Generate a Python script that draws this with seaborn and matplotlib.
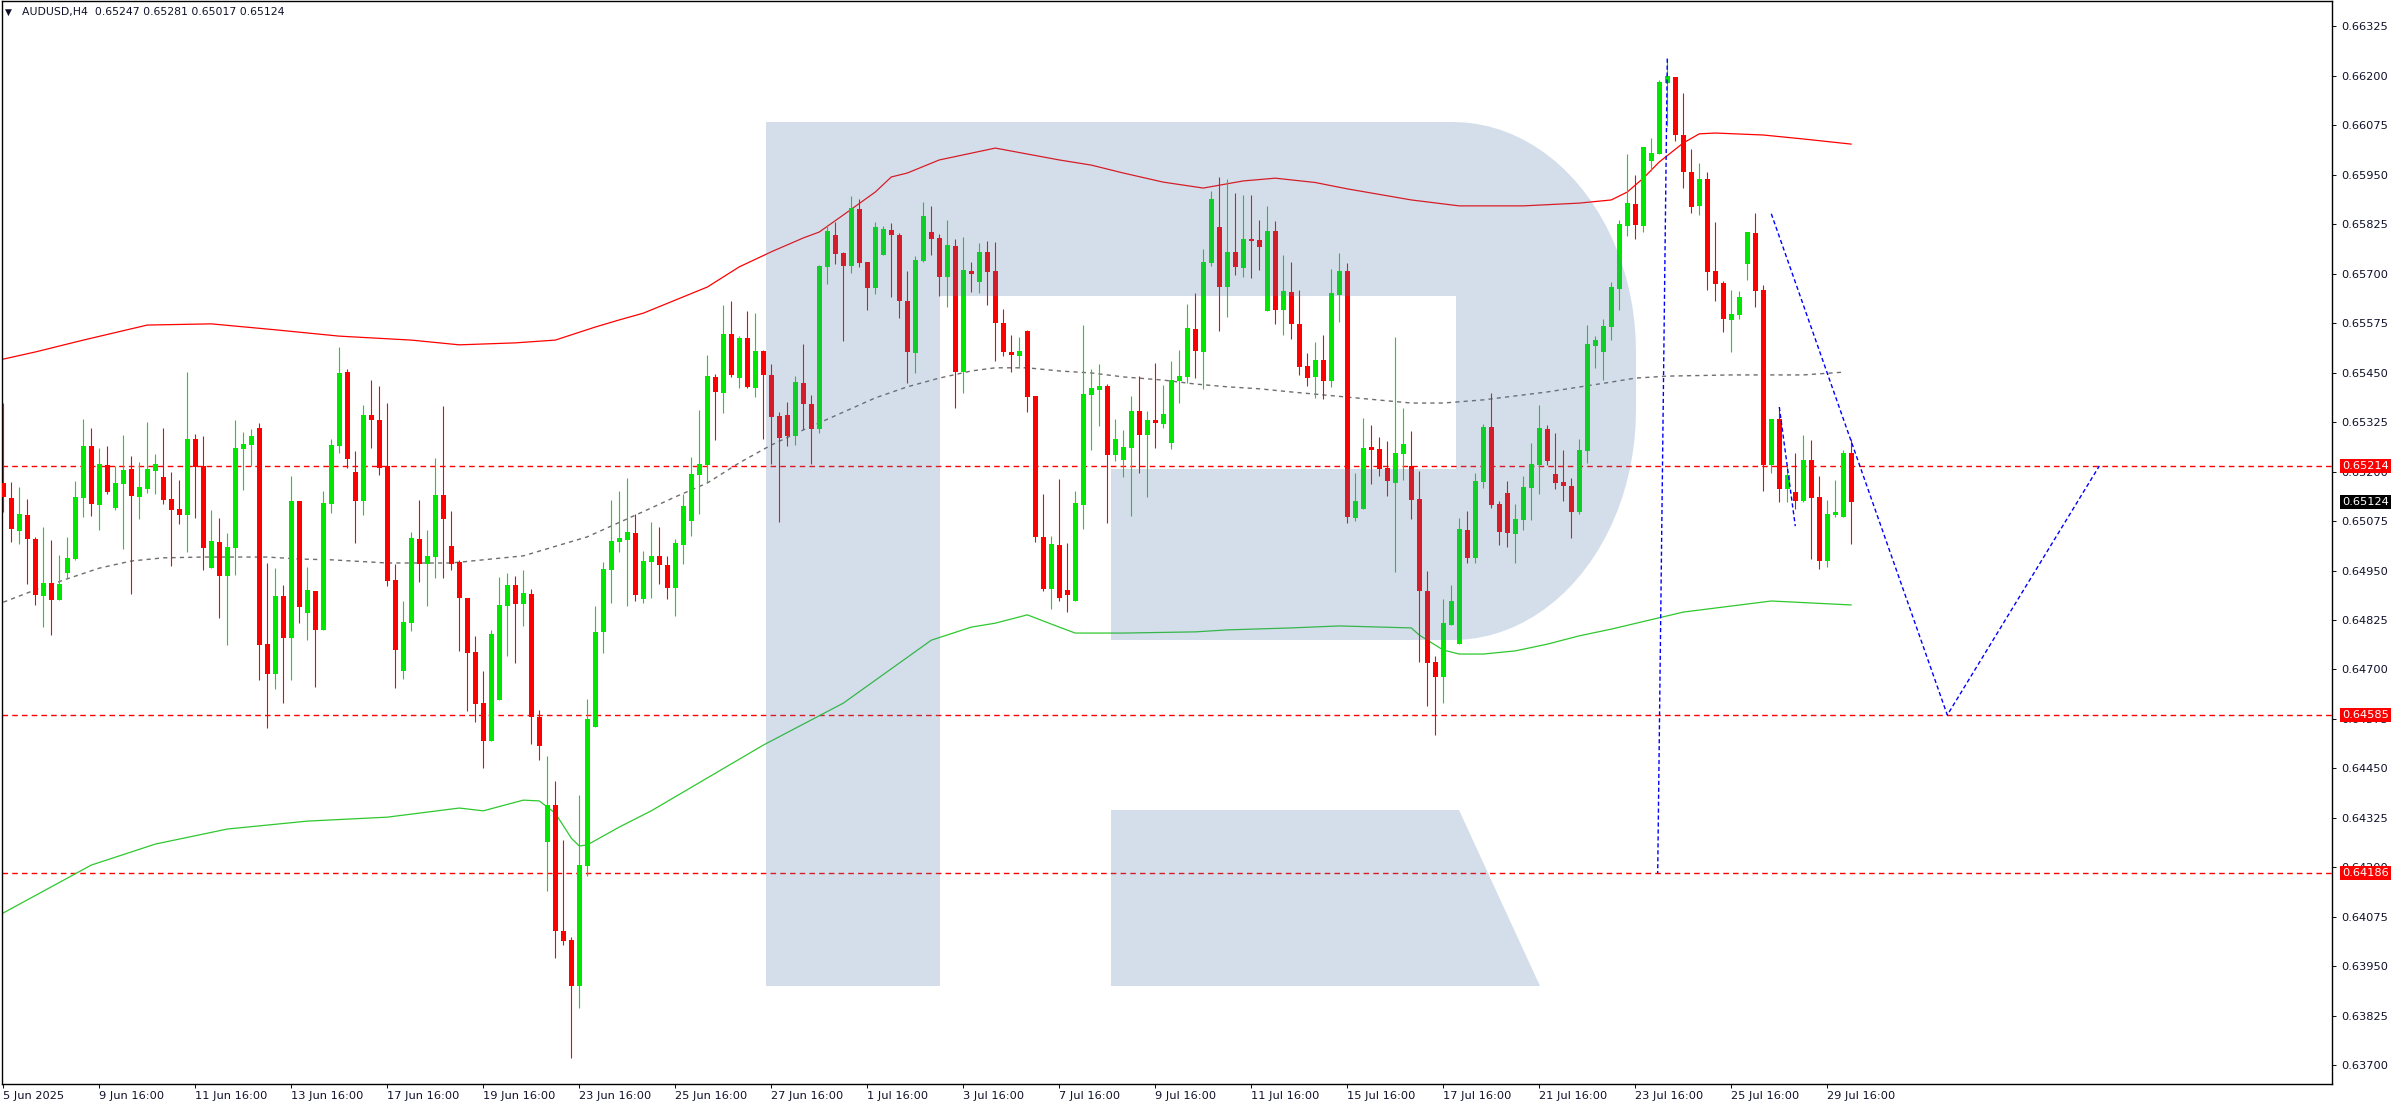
import numpy as np
import pandas as pd
import matplotlib
matplotlib.use("Agg")
import matplotlib.pyplot as plt
from matplotlib.patches import Polygon
from matplotlib.transforms import blended_transform_factory
import seaborn as sns

sns.set_style("white")
plt.rcParams['font.family'] = ['DejaVu Sans']

header = "AUDUSD,H4  0.65247 0.65281 0.65017 0.65124"

# H4 candles (bar 0 = 5 Jun 2025, last bar = 30 Jul 04:00)
opens = [
    0.65171, 0.65133, 0.65050, 0.65090, 0.65029, 0.64885, 0.64918, 0.64875, 0.64944, 0.64979,
    0.65133, 0.65264, 0.65115, 0.65216, 0.65108, 0.65168, 0.65206, 0.65136, 0.65156, 0.65201,
    0.65186, 0.65130, 0.65105, 0.65090, 0.65282, 0.65214, 0.64956, 0.65022, 0.64936, 0.65007,
    0.65257, 0.65267, 0.65310, 0.64764, 0.64688, 0.64885, 0.64779, 0.65125, 0.64843, 0.64898,
    0.64800, 0.65118, 0.65264, 0.65451, 0.65199, 0.65125, 0.65343, 0.65330, 0.65214, 0.64926,
    0.64696, 0.64817, 0.65029, 0.64966, 0.64984, 0.65141, 0.65012, 0.64971, 0.64880, 0.64744,
    0.64615, 0.64519, 0.64623, 0.64860, 0.64913, 0.64865, 0.64891, 0.64580, 0.64264, 0.64358,
    0.64039, 0.64017, 0.63900, 0.64203, 0.64555, 0.64795, 0.64951, 0.65022, 0.65027, 0.65045,
    0.64878, 0.64971, 0.64987, 0.64964, 0.64906, 0.65014, 0.65075, 0.65191, 0.65216, 0.65439,
    0.65398, 0.65547, 0.65436, 0.65537, 0.65411, 0.65504, 0.65444, 0.65340, 0.65343, 0.65290,
    0.65424, 0.65371, 0.65307, 0.65717, 0.65797, 0.65752, 0.65719, 0.65863, 0.65729, 0.65663,
    0.65747, 0.65810, 0.65797, 0.65631, 0.65499, 0.65732, 0.65805, 0.65790, 0.65691, 0.65770,
    0.65451, 0.65707, 0.65679, 0.65754, 0.65707, 0.65575, 0.65502, 0.65492, 0.65555, 0.65391,
    0.65034, 0.64903, 0.65014, 0.64901, 0.64873, 0.65115, 0.65393, 0.65406, 0.65416, 0.65242,
    0.65229, 0.65259, 0.65353, 0.65292, 0.65330, 0.65320, 0.65272, 0.65429, 0.65439, 0.65560,
    0.65502, 0.65727, 0.65818, 0.65666, 0.65754, 0.65714, 0.65787, 0.65785, 0.65605, 0.65807,
    0.65608, 0.65653, 0.65573, 0.65466, 0.65439, 0.65482, 0.65429, 0.65646, 0.65706, 0.65082,
    0.65105, 0.65262, 0.65257, 0.65209, 0.65171, 0.65244, 0.65214, 0.65130, 0.64898, 0.64719,
    0.64681, 0.64812, 0.64764, 0.65052, 0.64981, 0.65173, 0.65312, 0.65118, 0.65146, 0.65042,
    0.65077, 0.65158, 0.65216, 0.65307, 0.65194, 0.65173, 0.65163, 0.65098, 0.65252, 0.65517,
    0.65502, 0.65565, 0.65661, 0.65820, 0.65876, 0.65820, 0.65984, 0.66002, 0.66181, 0.66196,
    0.66050, 0.65957, 0.65871, 0.65939, 0.65707, 0.65676, 0.65583, 0.65595, 0.65724, 0.65802,
    0.65658, 0.65216, 0.65333, 0.65156, 0.65148, 0.65125, 0.65229, 0.65136, 0.64974, 0.65090,
    0.65085, 0.65247]
highs = [
    0.65373, 0.65173, 0.65161, 0.65131, 0.65034, 0.65060, 0.65027, 0.64989, 0.65034, 0.65176,
    0.65333, 0.65310, 0.65259, 0.65264, 0.65214, 0.65292, 0.65239, 0.65224, 0.65325, 0.65244,
    0.65310, 0.65199, 0.65178, 0.65451, 0.65295, 0.65290, 0.65103, 0.65082, 0.65045, 0.65330,
    0.65300, 0.65307, 0.65322, 0.64969, 0.64956, 0.64913, 0.65189, 0.65125, 0.64959, 0.64898,
    0.65151, 0.65282, 0.65514, 0.65459, 0.65252, 0.65368, 0.65431, 0.65416, 0.65373, 0.64966,
    0.64873, 0.65047, 0.65128, 0.65052, 0.65234, 0.65365, 0.65100, 0.64976, 0.64880, 0.64784,
    0.64696, 0.64800, 0.64933, 0.64944, 0.64936, 0.64951, 0.64903, 0.64598, 0.64481, 0.64418,
    0.64269, 0.64024, 0.64383, 0.64625, 0.64860, 0.64971, 0.65128, 0.65151, 0.65184, 0.65093,
    0.64999, 0.65072, 0.65060, 0.64987, 0.65029, 0.65143, 0.65237, 0.65355, 0.65494, 0.65446,
    0.65621, 0.65631, 0.65542, 0.65605, 0.65600, 0.65507, 0.65471, 0.65350, 0.65376, 0.65441,
    0.65522, 0.65393, 0.65722, 0.65823, 0.65830, 0.65754, 0.65896, 0.65888, 0.65729, 0.65830,
    0.65820, 0.65828, 0.65802, 0.65706, 0.65744, 0.65881, 0.65871, 0.65800, 0.65835, 0.65787,
    0.65792, 0.65729, 0.65777, 0.65782, 0.65780, 0.65610, 0.65545, 0.65540, 0.65557, 0.65391,
    0.65143, 0.65037, 0.65181, 0.65019, 0.65151, 0.65570, 0.65459, 0.65471, 0.65421, 0.65333,
    0.65305, 0.65391, 0.65441, 0.65353, 0.65474, 0.65418, 0.65479, 0.65507, 0.65623, 0.65651,
    0.65762, 0.65908, 0.65944, 0.65939, 0.65903, 0.65898, 0.65898, 0.65835, 0.65871, 0.65833,
    0.65747, 0.65729, 0.65658, 0.65499, 0.65527, 0.65545, 0.65711, 0.65752, 0.65727, 0.65196,
    0.65335, 0.65317, 0.65287, 0.65277, 0.65540, 0.65360, 0.65302, 0.65201, 0.64949, 0.64734,
    0.64878, 0.64913, 0.65082, 0.65100, 0.65196, 0.65320, 0.65398, 0.65125, 0.65176, 0.65118,
    0.65189, 0.65272, 0.65368, 0.65318, 0.65297, 0.65254, 0.65184, 0.65282, 0.65570, 0.65542,
    0.65585, 0.65679, 0.65835, 0.66002, 0.65949, 0.66020, 0.66042, 0.66189, 0.66242, 0.66196,
    0.66156, 0.66015, 0.65979, 0.65957, 0.65830, 0.65681, 0.65658, 0.65656, 0.65805, 0.65853,
    0.65671, 0.65333, 0.65355, 0.65216, 0.65247, 0.65292, 0.65280, 0.65189, 0.65128, 0.65178,
    0.65254, 0.65281]
lows = [
    0.65098, 0.65022, 0.65017, 0.64916, 0.64863, 0.64807, 0.64787, 0.64875, 0.64931, 0.64976,
    0.65085, 0.65088, 0.65052, 0.65143, 0.65103, 0.65004, 0.64891, 0.65080, 0.65146, 0.65143,
    0.65118, 0.64961, 0.65067, 0.64997, 0.65082, 0.64951, 0.64956, 0.64830, 0.64762, 0.64938,
    0.65153, 0.65214, 0.64673, 0.64552, 0.64651, 0.64615, 0.64673, 0.64817, 0.64774, 0.64656,
    0.64800, 0.65095, 0.65247, 0.65209, 0.65019, 0.65090, 0.65259, 0.65191, 0.64911, 0.64653,
    0.64676, 0.64797, 0.64921, 0.64860, 0.64931, 0.64931, 0.64951, 0.64747, 0.64595, 0.64567,
    0.64451, 0.64519, 0.64623, 0.64734, 0.64716, 0.64810, 0.64512, 0.64471, 0.64140, 0.63971,
    0.64004, 0.63718, 0.63845, 0.64178, 0.64555, 0.64741, 0.64868, 0.64997, 0.64860, 0.64873,
    0.64868, 0.64880, 0.64916, 0.64878, 0.64835, 0.64966, 0.65037, 0.65093, 0.65173, 0.65280,
    0.65348, 0.65439, 0.65411, 0.65411, 0.65388, 0.65282, 0.65219, 0.65072, 0.65264, 0.65267,
    0.65307, 0.65219, 0.65297, 0.65674, 0.65724, 0.65530, 0.65701, 0.65717, 0.65608, 0.65648,
    0.65747, 0.65641, 0.65588, 0.65424, 0.65449, 0.65729, 0.65747, 0.65643, 0.65616, 0.65360,
    0.65398, 0.65653, 0.65651, 0.65621, 0.65479, 0.65492, 0.65451, 0.65461, 0.65350, 0.65022,
    0.64898, 0.64853, 0.64873, 0.64845, 0.64873, 0.65055, 0.65254, 0.65315, 0.65070, 0.65226,
    0.65186, 0.65088, 0.65196, 0.65136, 0.65259, 0.65310, 0.65257, 0.65373, 0.65424, 0.65436,
    0.65408, 0.65719, 0.65555, 0.65590, 0.65696, 0.65691, 0.65689, 0.65709, 0.65605, 0.65573,
    0.65545, 0.65535, 0.65444, 0.65416, 0.65386, 0.65383, 0.65413, 0.65578, 0.65070, 0.65075,
    0.65105, 0.65168, 0.65189, 0.65138, 0.64946, 0.65178, 0.65080, 0.64719, 0.64608, 0.64534,
    0.64615, 0.64812, 0.64764, 0.64969, 0.64969, 0.65158, 0.65108, 0.65014, 0.65009, 0.64969,
    0.65052, 0.65077, 0.65143, 0.65216, 0.65156, 0.65125, 0.65032, 0.65093, 0.65221, 0.65461,
    0.65431, 0.65532, 0.65608, 0.65795, 0.65787, 0.65805, 0.65959, 0.66002, 0.66073, 0.66035,
    0.65916, 0.65853, 0.65848, 0.65658, 0.65631, 0.65552, 0.65502, 0.65585, 0.65684, 0.65616,
    0.65151, 0.65196, 0.65123, 0.65123, 0.65105, 0.65123, 0.64979, 0.64954, 0.64959, 0.65085,
    0.65085, 0.65017]
closes = [
    0.65136, 0.65055, 0.65093, 0.65029, 0.64888, 0.64918, 0.64875, 0.64916, 0.64981, 0.65136,
    0.65264, 0.65118, 0.65219, 0.65148, 0.65171, 0.65204, 0.65138, 0.65161, 0.65206, 0.65219,
    0.65128, 0.65103, 0.65090, 0.65282, 0.65211, 0.65007, 0.65024, 0.64936, 0.65009, 0.65259,
    0.65269, 0.65290, 0.64762, 0.64688, 0.64885, 0.64779, 0.65125, 0.64858, 0.64901, 0.64800,
    0.65120, 0.65267, 0.65449, 0.65232, 0.65125, 0.65343, 0.65330, 0.65209, 0.64923, 0.64749,
    0.64820, 0.65032, 0.64966, 0.64987, 0.65141, 0.65080, 0.64966, 0.64880, 0.64741, 0.64613,
    0.64519, 0.64789, 0.64863, 0.64913, 0.64865, 0.64893, 0.64580, 0.64507, 0.64358, 0.64039,
    0.64014, 0.63900, 0.64206, 0.64575, 0.64795, 0.64954, 0.65024, 0.65032, 0.65047, 0.64888,
    0.64974, 0.64987, 0.64964, 0.64906, 0.65019, 0.65113, 0.65194, 0.65219, 0.65441, 0.65401,
    0.65547, 0.65444, 0.65537, 0.65413, 0.65504, 0.65444, 0.65338, 0.65285, 0.65290, 0.65426,
    0.65371, 0.65307, 0.65719, 0.65807, 0.65749, 0.65719, 0.65866, 0.65727, 0.65663, 0.65818,
    0.65813, 0.65797, 0.65631, 0.65502, 0.65734, 0.65845, 0.65787, 0.65691, 0.65772, 0.65451,
    0.65709, 0.65699, 0.65754, 0.65704, 0.65575, 0.65502, 0.65494, 0.65504, 0.65388, 0.65034,
    0.64903, 0.65017, 0.64880, 0.64888, 0.65120, 0.65396, 0.65411, 0.65416, 0.65242, 0.65282,
    0.65262, 0.65353, 0.65292, 0.65330, 0.65322, 0.65345, 0.65431, 0.65441, 0.65562, 0.65504,
    0.65729, 0.65888, 0.65666, 0.65754, 0.65717, 0.65787, 0.65782, 0.65767, 0.65807, 0.65608,
    0.65656, 0.65573, 0.65464, 0.65436, 0.65482, 0.65429, 0.65651, 0.65706, 0.65085, 0.65125,
    0.65259, 0.65254, 0.65206, 0.65176, 0.65247, 0.65269, 0.65128, 0.64898, 0.64716, 0.64681,
    0.64817, 0.64873, 0.65055, 0.64981, 0.65176, 0.65312, 0.65115, 0.65047, 0.65045, 0.65080,
    0.65161, 0.65219, 0.65310, 0.65226, 0.65171, 0.65163, 0.65098, 0.65254, 0.65522, 0.65532,
    0.65567, 0.65666, 0.65825, 0.65878, 0.65823, 0.66020, 0.66004, 0.66184, 0.66199, 0.66050,
    0.65957, 0.65868, 0.65939, 0.65704, 0.65674, 0.65585, 0.65598, 0.65641, 0.65805, 0.65656,
    0.65216, 0.65333, 0.65156, 0.65191, 0.65125, 0.65229, 0.65133, 0.64974, 0.65093, 0.65098,
    0.65247, 0.65124]

# date labels, one every 12 bars
tick_labels = ["5 Jun 2025", "9 Jun 16:00", "11 Jun 16:00", "13 Jun 16:00", "17 Jun 16:00",
               "19 Jun 16:00", "23 Jun 16:00", "25 Jun 16:00", "27 Jun 16:00", "1 Jul 16:00",
               "3 Jul 16:00", "7 Jul 16:00", "9 Jul 16:00", "11 Jul 16:00", "15 Jul 16:00",
               "17 Jul 16:00", "21 Jul 16:00", "23 Jul 16:00", "25 Jul 16:00", "29 Jul 16:00"]
tick_bars = [12 * i for i in range(len(tick_labels))]

# price scale labels
price_ticks = np.round(np.arange(0.63700, 0.66326, 0.00125), 5)

# horizontal levels and last price
levels = [0.65214, 0.64585, 0.64186]
last_price = 0.65124

# envelope lines (upper red, middle grey dotted, lower green)
upper_bars = [0, 4, 10, 18, 26, 34, 42, 51, 57, 64, 69, 74, 77, 80, 84, 88, 92, 96, 100, 102,
              105, 109, 111, 113, 117, 124, 132, 136, 140, 145, 150, 155, 159, 164, 168, 176,
              182, 190, 197, 201, 203, 205, 207, 210, 212, 214, 220, 225, 231]
upper_vals = [0.65484, 0.65502, 0.65532, 0.65570, 0.65573, 0.65558, 0.65542, 0.65532, 0.65520,
              0.65525, 0.65532, 0.65565, 0.65583, 0.65600, 0.65633, 0.65666, 0.65717, 0.65755,
              0.65790, 0.65805, 0.65848, 0.65906, 0.65944, 0.65954, 0.65987, 0.66017, 0.65987,
              0.65974, 0.65954, 0.65931, 0.65916, 0.65934, 0.65941, 0.65930, 0.65914, 0.65886,
              0.65871, 0.65871, 0.65878, 0.65886, 0.65906, 0.65941, 0.65982, 0.66030, 0.66053,
              0.66055, 0.66050, 0.66040, 0.66027]
mid_bars = [0, 4, 8, 12, 16, 20, 25, 33, 37, 41, 48, 56, 65, 73, 81, 84, 88, 92, 96, 100,
            105, 109, 113, 117, 121, 124, 128, 132, 136, 140, 145, 149, 153, 157, 161, 168,
            176, 180, 185, 193, 201, 204, 208, 216, 225, 230]
mid_vals = [0.64870, 0.64901, 0.64929, 0.64956, 0.64974, 0.64982, 0.64984, 0.64984, 0.64979,
            0.64977, 0.64969, 0.64969, 0.64987, 0.65035, 0.65108, 0.65136, 0.65171, 0.65222,
            0.65267, 0.65305, 0.65350, 0.65386, 0.65414, 0.65436, 0.65454, 0.65462, 0.65462,
            0.65454, 0.65449, 0.65439, 0.65431, 0.65421, 0.65414, 0.65409, 0.65401, 0.65388,
            0.65373, 0.65373, 0.65381, 0.65401, 0.65426, 0.65436, 0.65441, 0.65444, 0.65444,
            0.65451]
lower_bars = [0, 11, 19, 28, 38, 48, 57, 60, 65, 67, 69, 71, 72, 73, 77, 81, 95, 105, 116, 121,
              124, 128, 132, 134, 140, 149, 153, 161, 167, 176, 177, 180, 182, 185, 189, 193,
              197, 201, 210, 221, 231]
lower_vals = [0.64085, 0.64206, 0.64259, 0.64297, 0.64317, 0.64327, 0.64350, 0.64343, 0.64370,
              0.64368, 0.64337, 0.64274, 0.64254, 0.64257, 0.64302, 0.64343, 0.64509, 0.64615,
              0.64774, 0.64807, 0.64817, 0.64838, 0.64807, 0.64792, 0.64792, 0.64795, 0.64800,
              0.64805, 0.64810, 0.64805, 0.64787, 0.64749, 0.64739, 0.64739, 0.64747, 0.64764,
              0.64785, 0.64802, 0.64845, 0.64873, 0.64863]

# blue dotted forecast paths
fc1_bars, fc1_vals = [208.0, 206.8], [0.66243, 0.64186]
fc2_bars, fc2_vals = [221.0, 243.0, 262.0], [0.65851, 0.64585, 0.65214]
fc3_bars, fc3_vals = [222.0, 224.0], [0.65363, 0.65062]

df = pd.DataFrame({'open': opens, 'high': highs, 'low': lows, 'close': closes})
df['bar'] = np.arange(len(df))
df['up'] = df['close'] >= df['open']
colors = np.where(df['up'], '#00e600', '#ff0000')

W, H = 2396, 1110
fig = plt.figure(figsize=(W / 100, H / 100), dpi=100, facecolor='white')
ax = fig.add_axes([2 / W, 1 - 1084 / H, 2330 / W, 1083 / H])
ax.set_facecolor('white')

# horizontal levels
for lv in levels:
    ax.axhline(lv, color='#ff0000', lw=1.0, linestyle=(0, (4, 3)), zorder=2)

# envelope lines
sns.lineplot(data=pd.DataFrame({'bar': upper_bars, 'price': upper_vals}), x='bar', y='price',
             color='#ff0000', lw=0.9, estimator=None, sort=False, ax=ax, zorder=2)
sns.lineplot(data=pd.DataFrame({'bar': mid_bars, 'price': mid_vals}), x='bar', y='price',
             color='#6e6e6e', lw=1.0, estimator=None, sort=False, ax=ax, zorder=2,
             linestyle=(0, (3, 3)))
sns.lineplot(data=pd.DataFrame({'bar': lower_bars, 'price': lower_vals}), x='bar', y='price',
             color='#2ec82e', lw=0.9, estimator=None, sort=False, ax=ax, zorder=2)

# candles
ax.vlines(df['bar'], df['low'], df['high'], colors=colors, lw=0.8, zorder=3)
body_h = np.maximum((df['close'] - df['open']).abs(), 0.00003)
ax.bar(df['bar'], body_h, bottom=np.minimum(df['open'], df['close']), width=0.625,
       color=colors, linewidth=0, zorder=3)

# forecast paths
for fb, fv in [(fc1_bars, fc1_vals), (fc2_bars, fc2_vals), (fc3_bars, fc3_vals)]:
    sns.lineplot(data=pd.DataFrame({'bar': fb, 'price': fv}), x='bar', y='price',
                 color='#0000ff', lw=1.0, estimator=None, sort=False, ax=ax, zorder=6,
                 linestyle=(0, (3, 2)))


# watermark "R" drawn in pixel space of the chart area
def px(X, Y):
    return ((X - 2) / 2330, 1 - (Y - 1) / 1083)


t1 = np.linspace(np.pi / 2, 0, 25)
t2 = np.linspace(0, np.pi / 2, 25)
bowl = [px(766, 122), px(1453, 122)]
bowl += [px(1453 + 183 * np.cos(t), 352 - 230 * np.sin(t)) for t in t1]
bowl += [px(1453 + 183 * np.cos(t), 410 + 230 * np.sin(t)) for t in t2]
bowl += [px(1111, 640), px(1111, 469), px(1456, 469), px(1456, 296), px(940, 296),
         px(940, 986), px(766, 986)]
leg = [px(1111, 810), px(1459, 810), px(1540, 986), px(1111, 986)]
for pts in (bowl, leg):
    ax.add_patch(Polygon(pts, closed=True, transform=ax.transAxes, facecolor='#4e7ba9',
                         alpha=0.243, edgecolor='none', zorder=4))

ax.set_xlim((2 - 3.3) / 8, (2332 - 3.3) / 8)
ax.set_ylim(0.63653, 0.663885)
ax.set_xlabel('')
ax.set_ylabel('')

ax.set_xticks(tick_bars)
ax.set_xticklabels(tick_labels, ha='left')
ax.yaxis.tick_right()
ax.set_yticks(price_ticks)
ax.set_yticklabels([f"{p:.5f}" for p in price_ticks])
ax.tick_params(axis='x', direction='out', length=3, width=0.75, pad=2, labelsize=8.2,
               colors='#10102a', bottom=True)
ax.tick_params(axis='y', direction='out', length=3, width=0.75, pad=4, labelsize=8.2,
               colors='#10102a', right=True, left=False)
for sp in ax.spines.values():
    sp.set_color('black')
    sp.set_linewidth(1.0)

# price boxes on the right scale
trans = blended_transform_factory(ax.transAxes, ax.transData)
for lv in levels:
    ax.text(1 + 10 / 2330, lv, f"{lv:.5f}", transform=trans, ha='left', va='center',
            color='white', fontsize=8.2, clip_on=False, zorder=10,
            bbox=dict(boxstyle='square,pad=0.18', fc='#ff0000', ec='none'))
ax.text(1 + 10 / 2330, last_price, f"{last_price:.5f}", transform=trans, ha='left',
        va='center', color='white', fontsize=8.2, clip_on=False, zorder=10,
        bbox=dict(boxstyle='square,pad=0.18', fc='black', ec='none'))

# header
fig.text(5 / W, 1 - 12 / H, "\u25bc", fontsize=6.5, va='center', color='#10102a')
fig.text(22 / W, 1 - 12 / H, header, fontsize=7.8, va='center', color='#10102a')

fig.savefig('out.png', dpi=100, facecolor='white')
